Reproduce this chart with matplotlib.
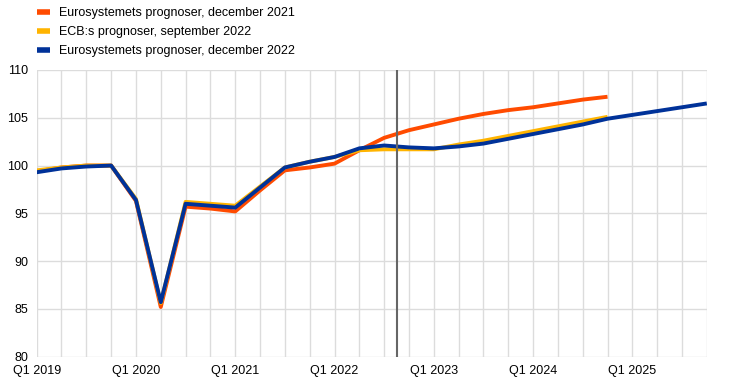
import matplotlib
matplotlib.use("Agg")
import matplotlib.pyplot as plt
import numpy as np

plt.rcParams['font.family'] = ['Liberation Sans', 'DejaVu Sans']

quarters = [f"Q{q} {y}" for y in range(2019, 2026) for q in range(1, 5)]

dec2021 = [99.4, 99.8, 100.0, 100.0, 96.3, 85.2, 95.7, 95.5, 95.2, 97.4, 99.5, 99.8,
           100.2, 101.6, 102.9, 103.7, 104.3, 104.9, 105.4, 105.8, 106.1, 106.5, 106.9, 107.2]
sep2022 = [99.5, 99.8, 100.0, 100.0, 96.5, 85.6, 96.2, 96.0, 95.8, 97.8, 99.8, 100.4,
           100.9, 101.6, 101.7, 101.7, 101.7, 102.2, 102.6, 103.1, 103.6, 104.1, 104.6, 105.1]
dec2022 = [99.3, 99.7, 99.9, 100.0, 96.4, 85.7, 96.0, 95.8, 95.6, 97.7, 99.8, 100.4,
           100.9, 101.8, 102.1, 101.9, 101.8, 102.0, 102.3, 102.8, 103.3, 103.8, 104.3, 104.9,
           105.3, 105.7, 106.1, 106.5]

labels = ["Eurosystemets prognoser, december 2021",
          "ECB:s prognoser, september 2022",
          "Eurosystemets prognoser, december 2022"]
colors = ["#FF4B00", "#FFB400", "#003299"]

fig = plt.figure(figsize=(7.44, 3.88), dpi=100)
ax = fig.add_axes([0.0493, 0.0807, 0.9007, 0.7389])

series = [dec2021, sep2022, dec2022]
handles = []
for s, c, l in zip(series, colors, labels):
    h, = ax.plot(np.arange(len(s)), s, color=c, lw=2.8, label=l, solid_capstyle='butt', solid_joinstyle='round')
    handles.append(h)

ax.axvline(14.5, color="#666666", lw=1.5, zorder=5)

ax.set_xlim(0, len(quarters) - 1)
ax.set_ylim(80, 110)
ax.set_yticks(range(80, 111, 5))
ax.set_xticks(range(len(quarters)))
ax.set_xticklabels([q if q.startswith("Q1") else "" for q in quarters])
ax.grid(True, color="#dcdcdc", lw=1)
ax.set_axisbelow(True)
for sp in ax.spines.values():
    sp.set_visible(False)
ax.tick_params(length=0, labelsize=9, colors="#000000")
ax.tick_params(axis='x', pad=6)
ax.tick_params(axis='y', pad=6)

leg = fig.legend(handles=handles, labels=labels, loc='upper left', bbox_to_anchor=(0.035, 1.01),
                 frameon=False, fontsize=9, handlelength=1.0, handletextpad=0.7,
                 labelspacing=0.55)
for lh in leg.get_lines():
    lh.set_linewidth(4)

fig.savefig("out.png", dpi=100)
